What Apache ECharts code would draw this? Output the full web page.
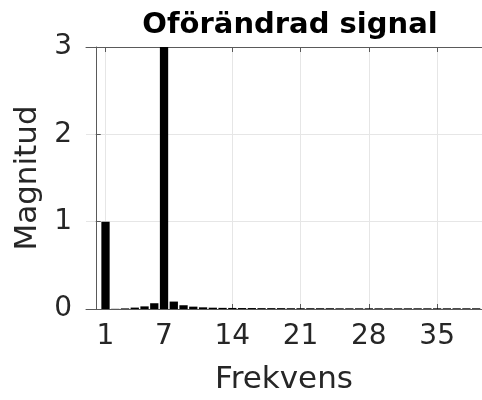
<!DOCTYPE html>
<html>
<head>
<meta charset="utf-8">
<script src="https://cdn.jsdelivr.net/npm/echarts@6/dist/echarts.min.js"></script>
<style>
  html, body { margin: 0; padding: 0; background: #fff; }
  #chart { width: 482px; height: 400px; }
</style>
</head>
<body>
<div id="chart"></div>
<script>
// Frequency bins and their magnitudes (spectrum of the unmodified signal)
const frequencies = [1, 2, 3, 4, 5, 6, 7, 8, 9, 10, 11, 12, 13, 14, 15, 16, 17, 18, 19, 20,
  21, 22, 23, 24, 25, 26, 27, 28, 29, 30, 31, 32, 33, 34, 35, 36, 37, 38, 39];
const magnitudes = [1.0, 0.002, 0.007, 0.016, 0.03, 0.066, 3.0, 0.085, 0.043, 0.027, 0.019, 0.015,
  0.013, 0.012, 0.011, 0.011, 0.010, 0.010, 0.010, 0.009, 0.009, 0.009, 0.009, 0.009, 0.008,
  0.008, 0.008, 0.008, 0.008, 0.008, 0.008, 0.008, 0.008, 0.008, 0.008, 0.008, 0.008, 0.008, 0.008];
const xTicks = [1, 7, 14, 21, 28, 35];
const yTicks = [0, 1, 2, 3];

const FONT = '"DejaVu Sans", sans-serif';
const TEXT = '#262626';
const AXIS = '#5a5a5a';
const GRID = '#e6e6e6';

const chart = echarts.init(document.getElementById('chart'), null, { renderer: 'canvas' });

chart.setOption({
  animation: false,
  backgroundColor: '#fff',
  title: {
    text: 'Oförändrad signal',
    left: 285,
    textAlign: 'center',
    top: 6,
    textStyle: { fontFamily: FONT, fontSize: 29, fontWeight: 'bold', color: '#000' }
  },
  grid: { left: 86, right: 0, top: 47, bottom: 90 },
  xAxis: [
    {
      type: 'value',
      min: -1,
      max: 39.6,
      name: 'Frekvens',
      nameLocation: 'middle',
      nameGap: 55,
      nameTextStyle: { fontFamily: FONT, fontSize: 31, color: TEXT },
      axisLine: { show: true, lineStyle: { color: AXIS, width: 1 } },
      axisTick: { show: true, inside: true, length: 5, customValues: xTicks, lineStyle: { color: AXIS } },
      axisLabel: { customValues: xTicks, margin: 14, fontFamily: FONT, fontSize: 28, color: TEXT },
      splitLine: { show: false }
    },
    {
      type: 'value',
      position: 'top',
      min: -1,
      max: 39.6,
      axisLine: { show: true, lineStyle: { color: AXIS, width: 1 } },
      axisTick: { show: true, inside: true, length: 5, customValues: xTicks, lineStyle: { color: AXIS } },
      axisLabel: { show: false },
      splitLine: { show: false }
    }
  ],
  yAxis: {
    type: 'value',
    min: 0,
    max: 3,
    interval: 1,
    name: 'Magnitud',
    nameLocation: 'middle',
    nameGap: 42,
    nameTextStyle: { fontFamily: FONT, fontSize: 31, color: TEXT },
    axisLine: { show: true, lineStyle: { color: AXIS, width: 1 } },
    axisTick: { show: true, inside: true, length: 5, lineStyle: { color: AXIS } },
    axisLabel: { margin: 14, fontFamily: FONT, fontSize: 28, color: TEXT,
      formatter: v => (yTicks.indexOf(v) >= 0 ? String(v) : '') },
    splitLine: { show: true, lineStyle: { color: GRID, width: 1 } }
  },
  series: [
    {
      // vertical grid lines at the x tick positions, kept beneath the bars
      type: 'line',
      data: [],
      z: 0,
      silent: true,
      markLine: {
        z: 0,
        silent: true,
        symbol: 'none',
        label: { show: false },
        lineStyle: { color: GRID, width: 1, type: 'solid' },
        data: xTicks.map(v => ({ xAxis: v }))
      }
    },
    {
      type: 'bar',
      z: 3,
      barWidth: '85%',
      itemStyle: { color: '#000' },
      data: frequencies.map((f, i) => [f, magnitudes[i]])
    }
  ]
});
</script>
</body>
</html>
